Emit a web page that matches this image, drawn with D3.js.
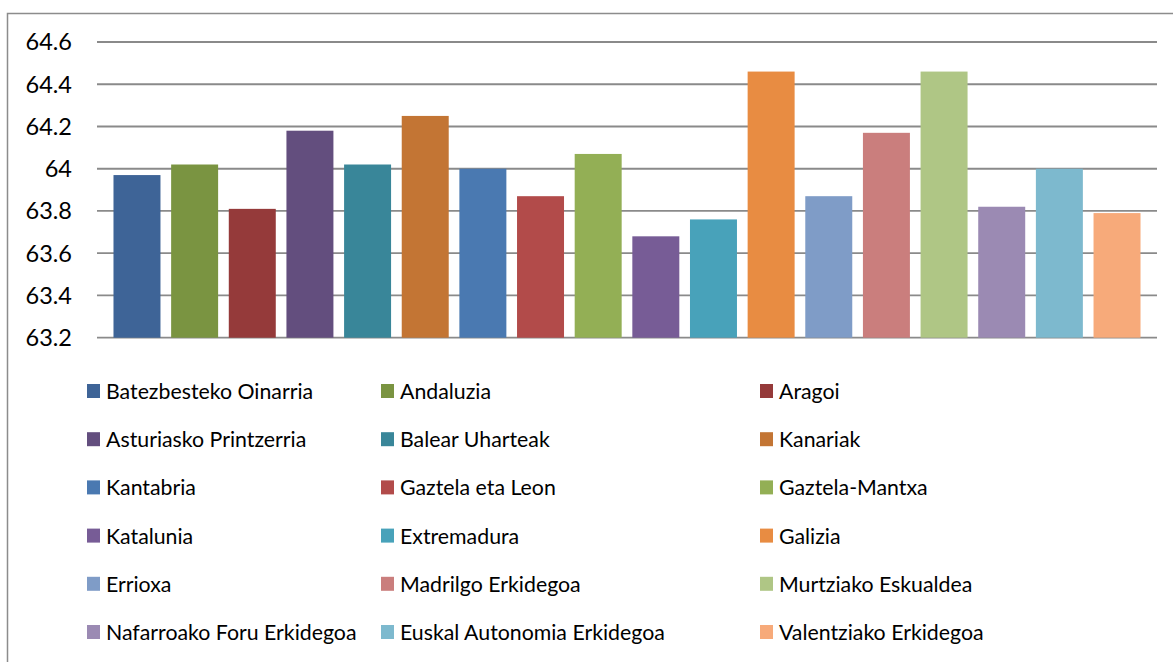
<!DOCTYPE html>
<html>
<head>
<meta charset="utf-8">
<script src="https://cdn.jsdelivr.net/npm/d3@7"></script>
<style>
  body { margin: 0; background: #fff; }
  text { font-family: Lato, "Open Sans", sans-serif; fill: #000; }
</style>
</head>
<body>
<div id="chart"></div>
<script>
const width = 1173;
const height = 662;

const regions = [
  'Batezbesteko Oinarria', 'Andaluzia', 'Aragoi',
  'Asturiasko Printzerria', 'Balear Uharteak', 'Kanariak',
  'Kantabria', 'Gaztela eta Leon', 'Gaztela-Mantxa',
  'Katalunia', 'Extremadura', 'Galizia',
  'Errioxa', 'Madrilgo Erkidegoa', 'Murtziako Eskualdea',
  'Nafarroako Foru Erkidegoa', 'Euskal Autonomia Erkidegoa', 'Valentziako Erkidegoa'
];
const values = [
  63.97, 64.02, 63.81,
  64.18, 64.02, 64.25,
  64.00, 63.87, 64.07,
  63.68, 63.76, 64.46,
  63.87, 64.17, 64.46,
  63.82, 64.00, 63.79
];
const colors = [
  '#3e6497', '#7a9441', '#953a3a',
  '#634e7e', '#398699', '#c37534',
  '#4a79b1', '#b24b4a', '#93af55',
  '#775c96', '#48a2ba', '#e88c42',
  '#7f9cc7', '#ca7e7d', '#afc685',
  '#9b8ab3', '#7db9ce', '#f7aa7a'
];
const yTicks = [63.2, 63.4, 63.6, 63.8, 64, 64.2, 64.4, 64.6];

const PLOT_LEFT = 97;
const PLOT_RIGHT = 1157;
const PLOT_TOP = 42;
const PLOT_BOTTOM = 337.7;
const LEGEND_COLS = [87, 381, 760];
const LEGEND_TOP = 384;
const LEGEND_ROW = 48.2;
const SWATCH = 14;

const svg = d3.select('#chart')
  .append('svg')
  .attr('width', width)
  .attr('height', height);

// chart frame (only top and left edges are visible in the crop)
svg.append('path')
  .attr('d', `M7.5,${height} V13.5 H${width}`)
  .attr('fill', 'none')
  .attr('stroke', '#8c8c8c')
  .attr('stroke-width', 1.5);

const x = d3.scaleBand()
  .domain(regions)
  .range([PLOT_LEFT, PLOT_RIGHT])
  .paddingInner(0.185)
  .paddingOuter(0.286);

const y = d3.scaleLinear()
  .domain([63.2, 64.6])
  .range([PLOT_BOTTOM, PLOT_TOP]);

// gridlines
svg.append('g')
  .selectAll('line')
  .data(yTicks)
  .enter().append('line')
    .attr('x1', PLOT_LEFT)
    .attr('x2', PLOT_RIGHT)
    .attr('y1', (d) => y(d))
    .attr('y2', (d) => y(d))
    .attr('stroke', '#8a8a8a')
    .attr('stroke-width', 1.8);

// y labels
svg.append('g')
  .selectAll('text')
  .data(yTicks)
  .enter().append('text')
    .attr('x', 72)
    .attr('y', (d) => y(d))
    .attr('dy', '0.36em')
    .attr('text-anchor', 'end')
    .style('font-size', '23.5px')
    .text((d) => d3.format('')(+d.toFixed(1)));

// bars
svg.append('g')
  .selectAll('rect')
  .data(values)
  .enter().append('rect')
    .attr('x', (d, i) => x(regions[i]))
    .attr('width', x.bandwidth())
    .attr('y', (d) => y(d))
    .attr('height', (d) => y(63.2) - y(d))
    .attr('fill', (d, i) => colors[i]);

// legend
const legendItem = svg.append('g')
  .selectAll('g')
  .data(regions)
  .enter().append('g')
    .attr('transform', (d, i) => `translate(${LEGEND_COLS[i % 3]}, ${LEGEND_TOP + Math.floor(i / 3) * LEGEND_ROW})`);

legendItem.append('rect')
  .attr('width', SWATCH - 1)
  .attr('height', SWATCH)
  .attr('fill', (d, i) => colors[i]);

legendItem.append('text')
  .attr('x', 19)
  .attr('y', 15)
  .style('font-size', '21.3px')
  .text((d) => d);
</script>
</body>
</html>
